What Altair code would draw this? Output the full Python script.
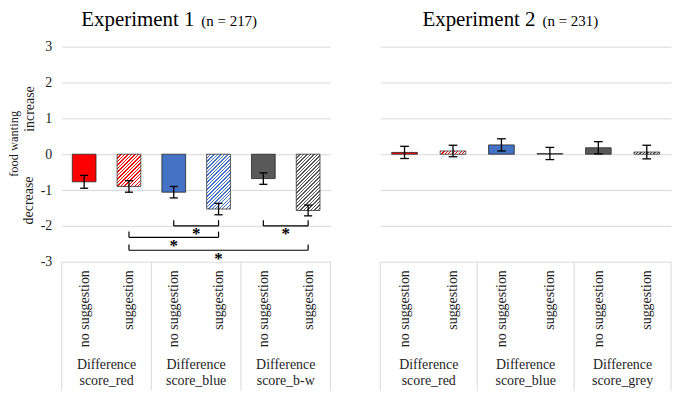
import altair as alt
import pandas as pd

# ---------------- data ----------------
conditions = ["no suggestion", "suggestion"]
exp1_groups = ["Difference score_red", "Difference score_blue", "Difference score_b-w"]
exp2_groups = ["Difference score_red", "Difference score_blue", "Difference score_grey"]
group_colors = ["#ff0000", "#4472c4", "#595959"]

exp1_means = [-0.77, -0.90, -1.06, -1.53, -0.68, -1.57]
exp1_errors = [0.18, 0.16, 0.16, 0.16, 0.16, 0.15]
exp2_means = [0.05, 0.09, 0.26, 0.02, 0.18, 0.06]
exp2_errors = [0.17, 0.16, 0.17, 0.17, 0.17, 0.19]

exp_titles = ["Experiment 1", "Experiment 2"]
exp_n = ["(n = 217)", "(n = 231)"]
y_ticks = [-3, -2, -1, 0, 1, 2, 3]

# significance brackets (Experiment 1): slot from, slot to, level
bracket_from = [2, 4, 1, 1]
bracket_to = [3, 5, 3, 5]
bracket_level = [-2.0, -2.0, -2.32, -2.68]
bracket_label = ["*", "*", "*", "*"]

y_title = "food wanting"
y_up = "increase"
y_down = "decrease"

# ---------------- style ----------------
FONT = "Liberation Serif"
PX_PER_UNIT = 36
PLOT_H = 216
HALF_BAR = 0.265
GRID = "#d9d9d9"
TXT = "#1e1e1e"


def hatch_fill(color, value, bar_px):
    w = bar_px
    h = max(abs(value) * PX_PER_UNIT, 1.0)
    L = w + h
    period = 3.5
    share = 0.4
    stops = []
    k = 0
    while k * period < L:
        a = round(k * period / L, 4)
        b = round(min((k + share) * period / L, 1), 4)
        c = round(min((k + 1) * period / L, 1), 4)
        stops += [
            {"offset": a, "color": color},
            {"offset": b, "color": color},
            {"offset": b, "color": "#ffffff"},
            {"offset": c, "color": "#ffffff"},
        ]
        k += 1
    d = w * w + h * h
    return {"gradient": "linear", "x1": 0, "y1": 0,
            "x2": round(w * (w + h) / d, 4), "y2": round(h * (w + h) / d, 4),
            "stops": stops}


def panel(means, errors, groups, title, n_text, width, left, brackets):
    n_slots = len(means)
    rows = []
    for i, (m, e) in enumerate(zip(means, errors)):
        rows.append({"slot": i, "mean": m, "err": e,
                     "color": group_colors[i // 2], "hatched": i % 2 == 1})
    df = pd.DataFrame(rows)

    xs = alt.Scale(domain=[0, n_slots], nice=False, zero=False)
    ys = alt.Scale(domain=[-3, 3], nice=False, zero=False)
    xaxis = alt.Axis(
        values=[i + 0.5 for i in range(n_slots)],
        labelExpr=f"floor(datum.value) % 2 == 0 ? '{conditions[0]}' : '{conditions[1]}'",
        labelAngle=-90, labelFont=FONT, labelFontSize=14, labelColor=TXT,
        labelPadding=8, ticks=False, domain=False, grid=False,
        labelFlush=False, labelOverlap=False, labelBound=False, title=None)
    if left:
        yaxis = alt.Axis(values=y_ticks, labelExpr="'' + datum.value",
                         labelFont=FONT, labelFontSize=14, labelColor=TXT,
                         labelPadding=10, ticks=False, domain=False,
                         grid=True, gridColor=GRID, gridWidth=1, title=None)
    else:
        yaxis = alt.Axis(values=y_ticks, labels=False, ticks=False, domain=False,
                         grid=True, gridColor=GRID, gridWidth=1, title=None)

    def X(f):
        return alt.X(f, scale=xs, axis=xaxis)

    def Y(f):
        return alt.Y(f, scale=ys, axis=yaxis)

    def YD(v):
        return alt.YDatum(v, scale=ys, axis=yaxis)

    base = alt.Chart(df).transform_calculate(
        pos="datum.slot + 0.5",
        x0=f"datum.slot + 0.5 - {HALF_BAR}",
        x1=f"datum.slot + 0.5 + {HALF_BAR}",
        c0="datum.slot + 0.41",
        c1="datum.slot + 0.59",
        lo="datum.mean - datum.err",
        hi="datum.mean + datum.err",
    )

    layers = []
    # separators of the category boxes
    sep = alt.Chart(pd.DataFrame({"g": list(range(len(groups) + 1))})).transform_calculate(
        gx="datum.g * 2").mark_rule(color=GRID, strokeWidth=1).encode(
        x=X("gx:Q"), y=YD(-3), y2=alt.Y2Datum(-6.6))
    layers.append(sep)

    # solid bars
    layers.append(base.transform_filter("!datum.hatched").mark_rect(
        stroke="#262626", strokeWidth=0.8).encode(
        x=X("x0:Q"), x2="x1:Q", y=Y("mean:Q"), y2=alt.Y2Datum(0),
        fill=alt.Fill("color:N", scale=None)))

    bar_px = width / n_slots * 2 * HALF_BAR
    for i, m in enumerate(means):
        if i % 2 == 1:
            col = group_colors[i // 2]
            layers.append(base.transform_filter(f"datum.slot == {i}").mark_rect(
                fill=hatch_fill(col, m, bar_px), stroke="#303030", strokeWidth=0.8).encode(
                x=X("x0:Q"), x2="x1:Q", y=Y("mean:Q"), y2=alt.Y2Datum(0)))

    # error bars
    layers.append(base.mark_rule(color="black", strokeWidth=1.3).encode(
        x=X("pos:Q"), y=Y("lo:Q"), y2="hi:Q"))
    layers.append(base.transform_fold(["lo", "hi"], as_=["end", "yv"]).mark_rule(
        color="black", strokeWidth=1.3).encode(x=X("c0:Q"), x2="c1:Q", y=Y("yv:Q")))

    # group labels under the boxes
    gdf = pd.DataFrame({"g": list(range(len(groups))), "name": groups})
    layers.append(alt.Chart(gdf).transform_calculate(gx="datum.g * 2 + 1").mark_text(
        font=FONT, fontSize=14, color=TXT, lineBreak=" ", lineHeight=16,
        baseline="top", align="center").encode(
        x=X("gx:Q"), y=YD(-5.69), text="name:N"))

    # significance brackets
    if brackets is not None:
        bdf = pd.DataFrame(brackets)
        bb = alt.Chart(bdf).transform_calculate(
            bx0="datum.a + 0.5", bx1="datum.b + 0.5",
            mid="(datum.a + datum.b) / 2 + 0.5",
            top="datum.level + 0.16", star="datum.level - 0.15")
        layers.append(bb.mark_rule(color="black", strokeWidth=1.2).encode(
            x=X("bx0:Q"), x2="bx1:Q", y=Y("level:Q")))
        layers.append(bb.transform_fold(["bx0", "bx1"], as_=["e", "ex"]).mark_rule(
            color="black", strokeWidth=1.2).encode(
            x=X("ex:Q"), y=Y("level:Q"), y2="top:Q"))
        layers.append(bb.mark_text(font=FONT, fontSize=17, fontWeight="bold",
                                   color="black", baseline="middle", dy=3).encode(
            x=X("mid:Q"), y=Y("star:Q"), text="label:N"))

    # panel title
    tx = width * 0.4935 if left else width * 0.534
    tdf = pd.DataFrame({"t": [title], "n": [n_text]})
    layers.append(alt.Chart(tdf).mark_text(
        font=FONT, fontSize=21, color="black", align="right", baseline="alphabetic").encode(
        x=alt.value(tx), y=alt.value(-21), text="t:N"))
    layers.append(alt.Chart(tdf).mark_text(
        font=FONT, fontSize=15, color="black", align="left", baseline="alphabetic").encode(
        x=alt.value(tx + 7), y=alt.value(-21), text="n:N"))

    # y axis title pieces
    if left:
        ydf = pd.DataFrame({"t": [y_title], "xo": [-48], "yv": [0.29]})
        layers.append(alt.Chart(ydf).mark_text(
            font=FONT, fontSize=12.5, color=TXT, angle=270, align="center",
            baseline="middle").encode(
            x=alt.X("xo:Q", scale=None), y=Y("yv:Q"), text="t:N"))
        ydf2 = pd.DataFrame({"t": [y_up, y_down], "xo": [-32, -33], "yv": [1.26, -1.29]})
        layers.append(alt.Chart(ydf2).mark_text(
            font=FONT, fontSize=14, color=TXT, angle=270, align="center",
            baseline="middle").encode(
            x=alt.X("xo:Q", scale=None), y=Y("yv:Q"), text="t:N"))

    return alt.layer(*layers).properties(width=width, height=PLOT_H)


left = panel(exp1_means, exp1_errors, exp1_groups, exp_titles[0], exp_n[0], 270, True,
             {"a": bracket_from, "b": bracket_to, "level": bracket_level,
              "label": bracket_label})
right = panel(exp2_means, exp2_errors, exp2_groups, exp_titles[1], exp_n[1], 292, False, None)

chart = alt.hconcat(left, right, spacing=48).properties(
    padding=0, background="white").configure_view(stroke=None)

chart.save("out.html", embed_options={"renderer": "svg", "actions": False})
